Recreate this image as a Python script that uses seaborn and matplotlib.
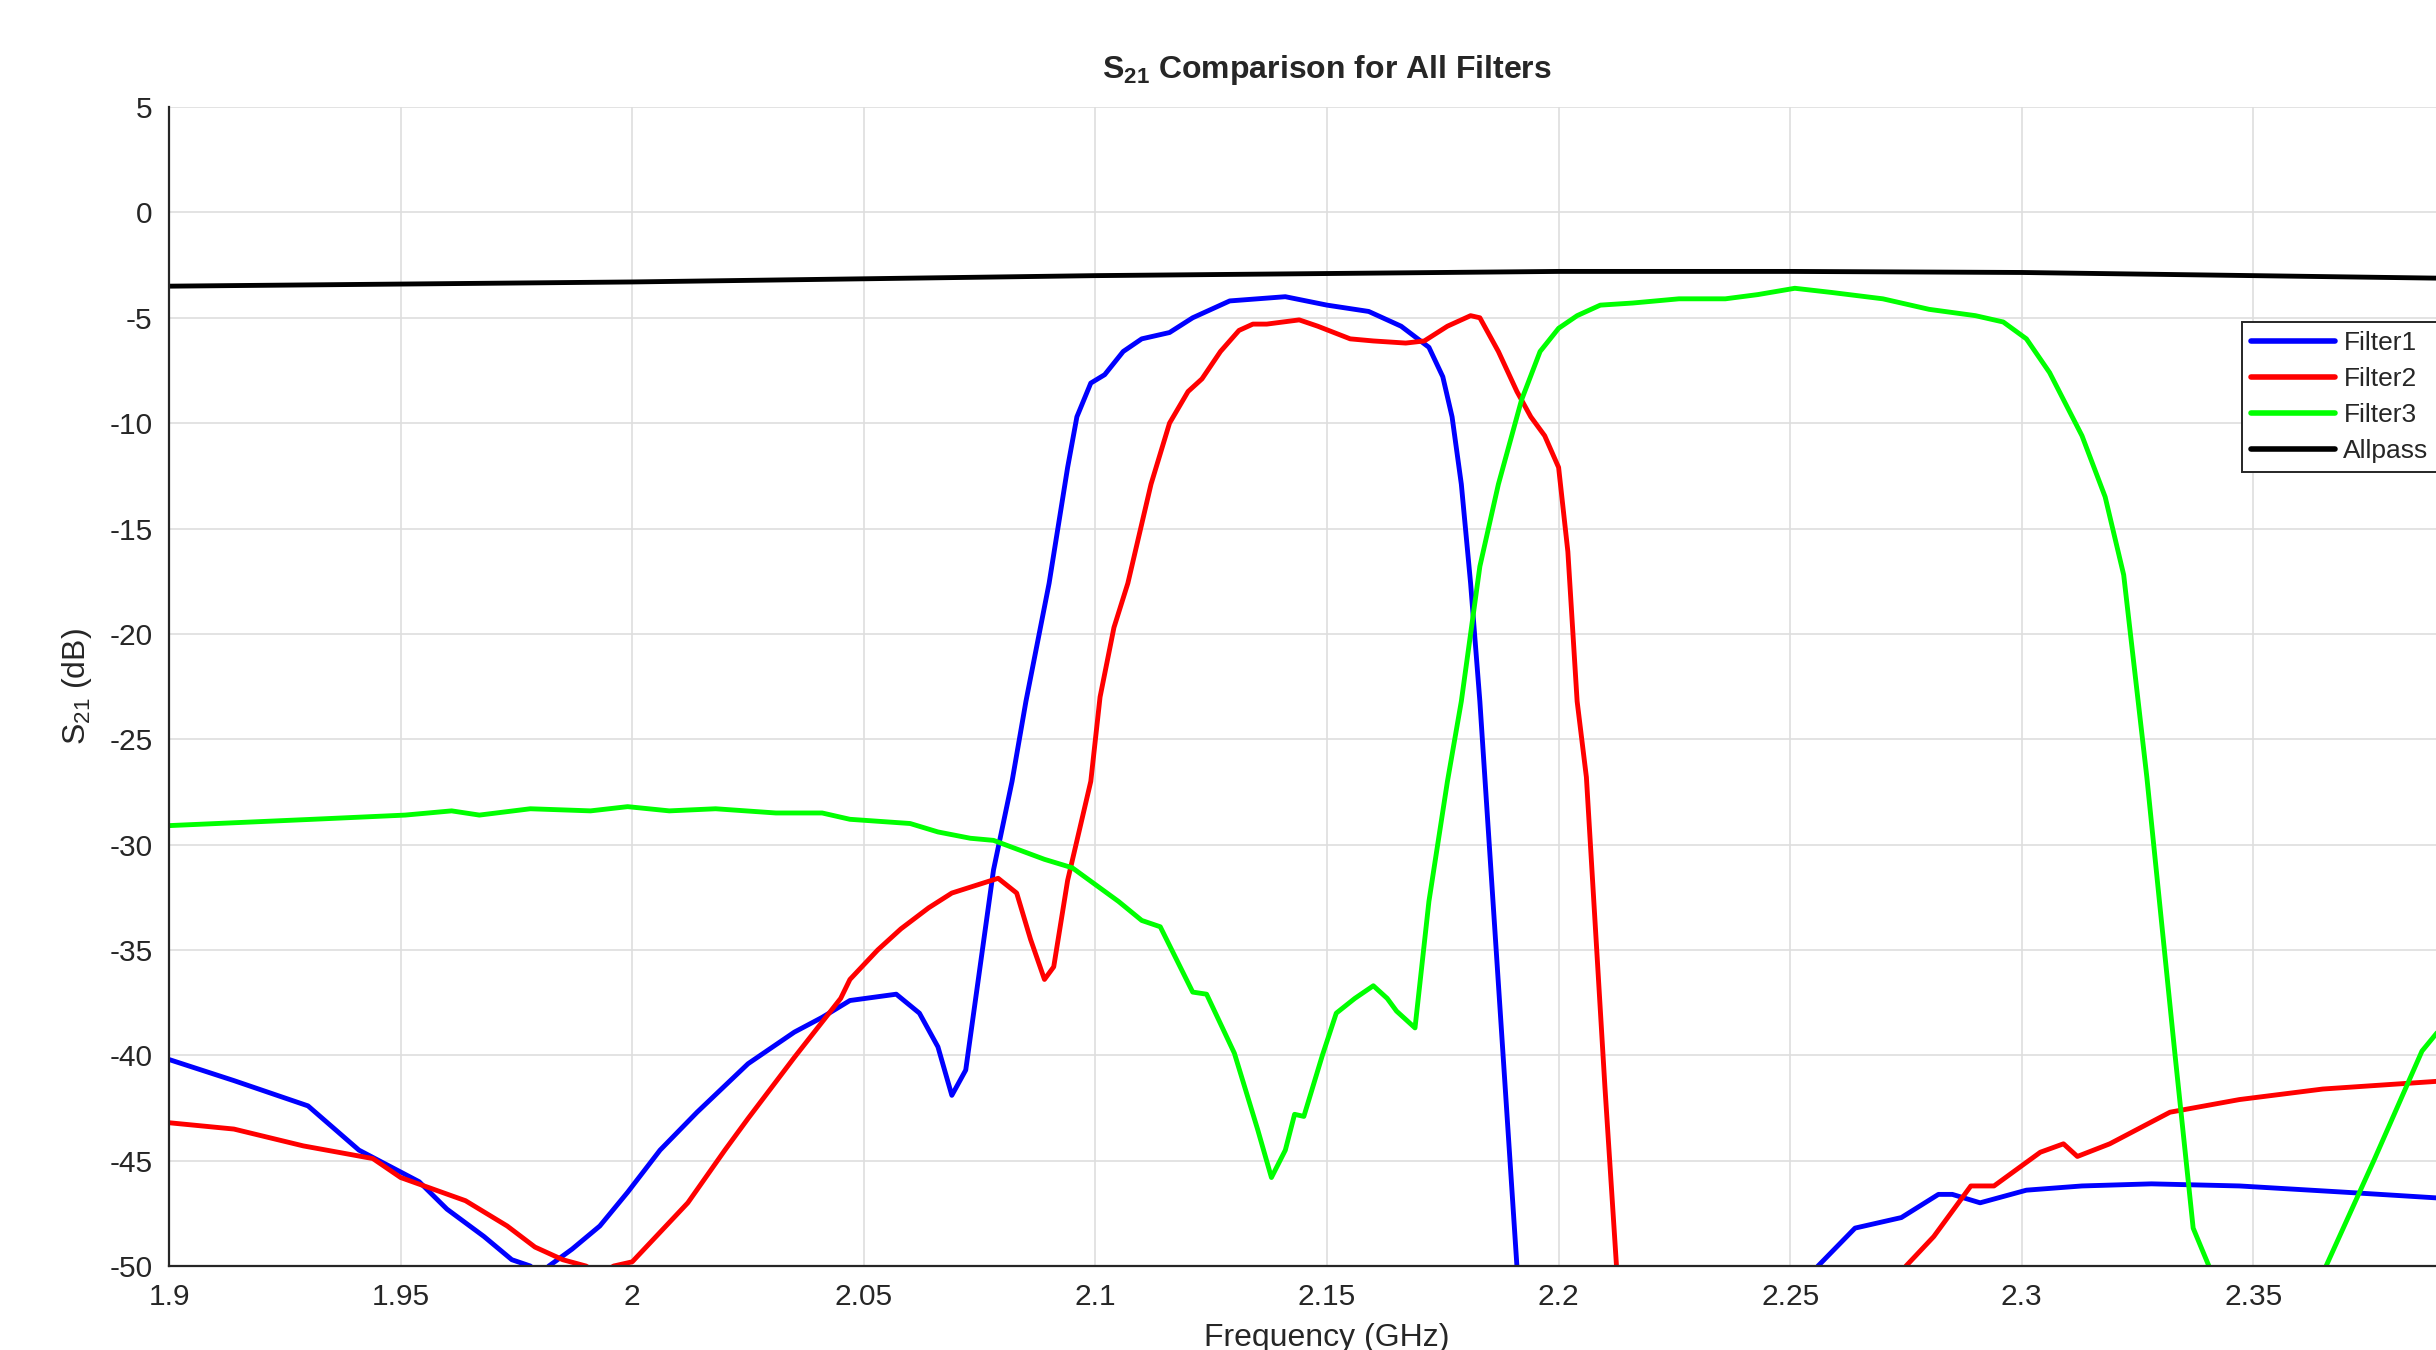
import matplotlib
matplotlib.use("Agg")
import matplotlib.pyplot as plt
import numpy as np
import pandas as pd
import seaborn as sns
from matplotlib.ticker import FormatStrFormatter

# values (frequency in GHz, S21 in dB)
# points below -50 only carry the curve out of the visible window
f1_freq = [1.900, 1.914, 1.930, 1.941, 1.954, 1.960, 1.968, 1.974, 1.978, 1.980, 1.982, 1.987,
           1.993, 1.999, 2.006, 2.014, 2.025, 2.035, 2.041, 2.047, 2.057, 2.062, 2.066, 2.069,
           2.072, 2.078, 2.082, 2.085, 2.090, 2.094, 2.096, 2.099, 2.102, 2.106, 2.110, 2.116,
           2.121, 2.129, 2.141, 2.150, 2.159, 2.166, 2.172, 2.175, 2.177, 2.179, 2.181, 2.183,
           2.191, 2.195, 2.252, 2.256, 2.264, 2.274, 2.282, 2.285, 2.291, 2.301, 2.313, 2.328,
           2.347, 2.370, 2.392]
f1_s21 = [-40.2, -41.2, -42.4, -44.5, -46.0, -47.3, -48.6, -49.7, -50.0, -50.5, -50.0, -49.2,
          -48.1, -46.5, -44.5, -42.7, -40.4, -38.9, -38.2, -37.4, -37.1, -38.0, -39.6, -41.9,
          -40.7, -31.2, -27.0, -23.2, -17.6, -12.1, -9.7, -8.1, -7.7, -6.6, -6.0, -5.7,
          -5.0, -4.2, -4.0, -4.4, -4.7, -5.4, -6.4, -7.8, -9.7, -12.9, -17.6, -23.2,
          -50.0, -70.0, -70.0, -50.0, -48.2, -47.7, -46.6, -46.6, -47.0, -46.4, -46.2, -46.1,
          -46.2, -46.5, -46.8]

f2_freq = [1.900, 1.914, 1.929, 1.944, 1.950, 1.964, 1.973, 1.979, 1.985, 1.990, 1.993, 1.996,
           2.000, 2.006, 2.012, 2.020, 2.025, 2.035, 2.045, 2.047, 2.053, 2.058, 2.064, 2.069,
           2.079, 2.083, 2.086, 2.089, 2.091, 2.094, 2.099, 2.101, 2.104, 2.107, 2.112, 2.116,
           2.120, 2.123, 2.127, 2.131, 2.134, 2.137, 2.144, 2.148, 2.155, 2.160, 2.167, 2.171,
           2.176, 2.181, 2.183, 2.187, 2.191, 2.194, 2.197, 2.200, 2.202, 2.204, 2.206, 2.210,
           2.2125, 2.216, 2.271, 2.275, 2.281, 2.289, 2.294, 2.304, 2.309, 2.312, 2.319, 2.332,
           2.347, 2.365, 2.392]
f2_s21 = [-43.2, -43.5, -44.3, -44.9, -45.8, -46.9, -48.1, -49.1, -49.7, -50.0, -50.4, -50.0,
          -49.8, -48.4, -47.0, -44.5, -43.0, -40.1, -37.3, -36.4, -35.0, -34.0, -33.0, -32.3,
          -31.6, -32.3, -34.5, -36.4, -35.8, -31.7, -27.0, -23.0, -19.7, -17.6, -12.9, -10.0,
          -8.5, -7.9, -6.6, -5.6, -5.3, -5.3, -5.1, -5.4, -6.0, -6.1, -6.2, -6.1,
          -5.4, -4.9, -5.0, -6.6, -8.5, -9.7, -10.6, -12.1, -16.1, -23.2, -26.8, -41.5,
          -50.0, -70.0, -70.0, -50.0, -48.6, -46.2, -46.2, -44.6, -44.2, -44.8, -44.2, -42.7,
          -42.1, -41.6, -41.2]

f3_freq = [1.900, 1.931, 1.951, 1.961, 1.967, 1.978, 1.991, 1.999, 2.008, 2.018, 2.031, 2.041,
           2.047, 2.060, 2.066, 2.073, 2.078, 2.089, 2.095, 2.105, 2.110, 2.114, 2.121, 2.124,
           2.130, 2.135, 2.138, 2.141, 2.143, 2.145, 2.149, 2.152, 2.156, 2.160, 2.163, 2.165,
           2.169, 2.172, 2.176, 2.179, 2.183, 2.187, 2.192, 2.196, 2.200, 2.204, 2.209, 2.216,
           2.226, 2.236, 2.243, 2.251, 2.259, 2.270, 2.280, 2.290, 2.296, 2.301, 2.306, 2.313,
           2.318, 2.322, 2.327, 2.333, 2.337, 2.3404, 2.343, 2.363, 2.3657, 2.376, 2.3864, 2.392]
f3_s21 = [-29.1, -28.8, -28.6, -28.4, -28.6, -28.3, -28.4, -28.2, -28.4, -28.3, -28.5, -28.5,
          -28.8, -29.0, -29.4, -29.7, -29.8, -30.7, -31.1, -32.7, -33.6, -33.9, -37.0, -37.1,
          -39.9, -43.5, -45.8, -44.5, -42.8, -42.9, -40.0, -38.0, -37.3, -36.7, -37.3, -37.9,
          -38.7, -32.7, -27.0, -23.2, -16.8, -12.9, -8.9, -6.6, -5.5, -4.9, -4.4, -4.3,
          -4.1, -4.1, -3.9, -3.6, -3.8, -4.1, -4.6, -4.9, -5.2, -6.0, -7.6, -10.6,
          -13.5, -17.2, -26.8, -39.8, -48.2, -50.0, -70.0, -70.0, -50.0, -45.0, -39.8, -38.3]

ap_freq = [1.90, 1.95, 2.00, 2.05, 2.10, 2.15, 2.20, 2.25, 2.30, 2.35, 2.40]
ap_s21 = [-3.5, -3.4, -3.3, -3.15, -3.0, -2.9, -2.8, -2.8, -2.85, -3.0, -3.15]

names = ["Filter1", "Filter2", "Filter3", "Allpass"]
colors = ["#0000ff", "#ff0000", "#00ff00", "#000000"]

df = pd.concat([
    pd.DataFrame({"freq": f1_freq, "s21": f1_s21, "filtro": "Filter1"}),
    pd.DataFrame({"freq": f2_freq, "s21": f2_s21, "filtro": "Filter2"}),
    pd.DataFrame({"freq": f3_freq, "s21": f3_s21, "filtro": "Filter3"}),
    pd.DataFrame({"freq": ap_freq, "s21": ap_s21, "filtro": "Allpass"}),
], ignore_index=True)

sns.set_style("white")
plt.rcParams["font.family"] = ["Liberation Sans", "DejaVu Sans"]
plt.rcParams["mathtext.fontset"] = "custom"
plt.rcParams["mathtext.rm"] = "Liberation Sans"
plt.rcParams["mathtext.bf"] = "Liberation Sans:bold"
plt.rcParams["axes.unicode_minus"] = False

fig = plt.figure(figsize=(24.36, 13.5), dpi=100)
# axes run past the right edge like the cropped original
ax = fig.add_axes([0.0694, 0.0622, 0.9507, 0.8585])

sns.lineplot(data=df, x="freq", y="s21", hue="filtro", hue_order=names,
             palette=dict(zip(names, colors)), sort=False, estimator=None,
             linewidth=3.5, ax=ax, legend=False)

ax.set_xlim(1.9, 2.4)
ax.set_ylim(-50, 5)
# 2.4 sits outside the visible figure, so its label is left out
ax.set_xticks(np.arange(1.9, 2.351, 0.05))
ax.set_yticks(np.arange(-50, 5.1, 5))
ax.xaxis.set_major_formatter(FormatStrFormatter("%g"))
ax.yaxis.set_major_formatter(FormatStrFormatter("%g"))
ax.grid(True, color="#dedede", linewidth=1.2)
ax.set_axisbelow(True)

for s in ["top", "right"]:
    ax.spines[s].set_visible(False)
for s in ["left", "bottom"]:
    ax.spines[s].set_color("#262626")
    ax.spines[s].set_linewidth(1.6)
ax.tick_params(direction="in", length=16, width=1.6, color="#262626",
               labelsize=21.5, labelcolor="#262626", pad=12)

ax.set_title(r"$\mathbf{S_{21}}$ Comparison for All Filters", fontsize=23,
             fontweight="bold", pad=21)
ax.set_xlabel("Frequency (GHz)", fontsize=23, color="#262626", labelpad=9)
ax.set_ylabel(r"$\mathrm{S_{21}}$ (dB)", fontsize=23, color="#262626", labelpad=11)

handles = [plt.Line2D([], [], color=c, linewidth=4) for c in colors]
leg = ax.legend(handles, names, loc="upper left", bbox_to_anchor=(0.895, 0.8145),
                borderaxespad=0, fontsize=19, handlelength=3.2, handletextpad=0.3,
                labelspacing=0.45, borderpad=0.35, fancybox=False, framealpha=1)
leg.get_frame().set_edgecolor("#262626")
leg.get_frame().set_linewidth(1.4)

plt.savefig("out.png", dpi=100)
plt.close()
